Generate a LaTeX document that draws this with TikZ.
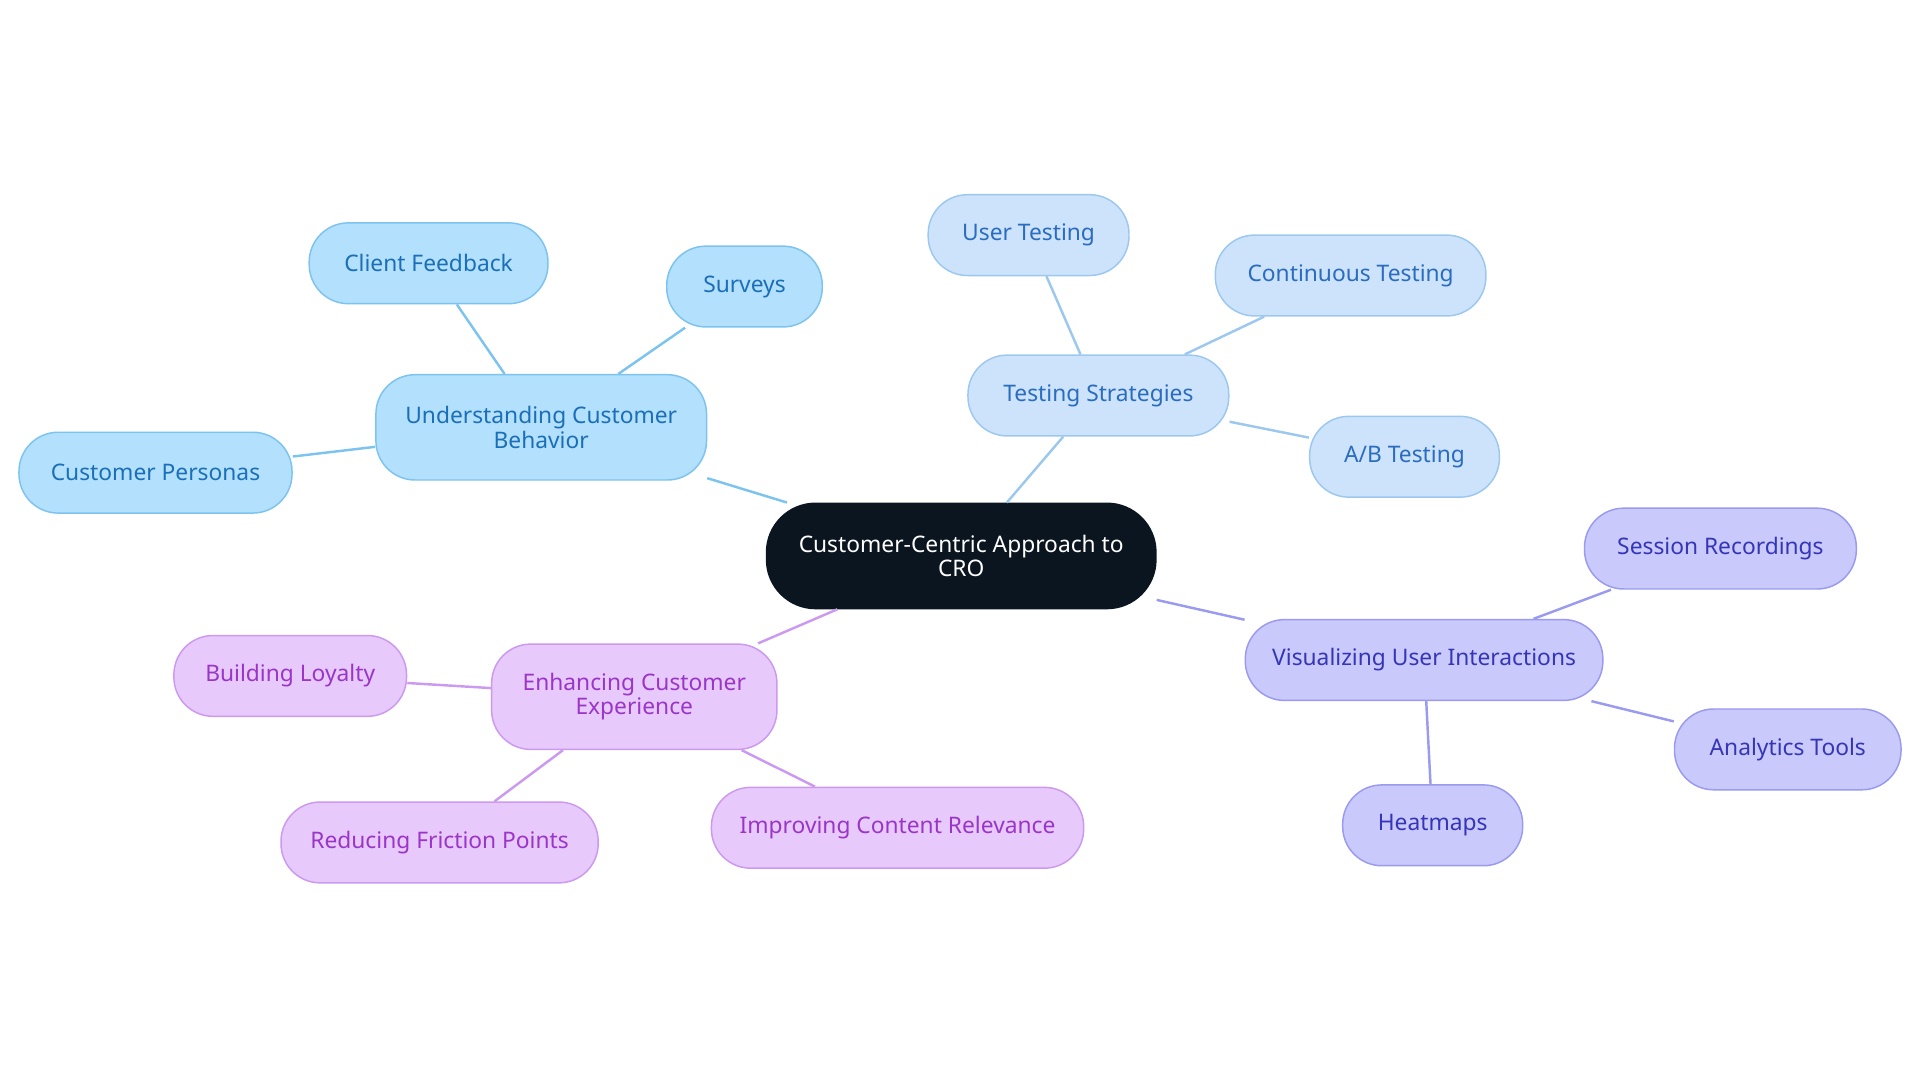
\documentclass[tikz,border=0pt]{standalone}
\usepackage{fontspec}
\setmainfont{Noto Sans}
\begin{document}
\begin{tikzpicture}[x=0.5pt,y=-0.5pt,
 base/.style={rounded corners=16pt,minimum height=33pt,align=center,font=\fontsize{9.3}{10}\selectfont,line width=0.6pt,inner sep=2pt},
 blue/.style={base,fill=cB,draw=eB,text=tB},
 lblue/.style={base,fill=cL,draw=eL,text=tL},
 purp/.style={base,fill=cP,draw=eP,text=tP},
 viol/.style={base,fill=cV,draw=eV,text=tV},
 big/.style={minimum height=43pt}]
\definecolor{cB}{HTML}{B3E0FD}\definecolor{eB}{HTML}{7CC3F0}\definecolor{tB}{HTML}{1A6FB8}
\definecolor{cL}{HTML}{CCE3FB}\definecolor{eL}{HTML}{9CC8F0}\definecolor{tL}{HTML}{2A6CC0}
\definecolor{cV}{HTML}{C9C9FB}\definecolor{eV}{HTML}{9A9AF0}\definecolor{tV}{HTML}{3535B8}
\definecolor{cP}{HTML}{E8C9FB}\definecolor{eP}{HTML}{CC99F0}\definecolor{tP}{HTML}{9A35C8}
\useasboundingbox (0,0) rectangle (1568,884);
\node[base,big,fill={rgb,255:red,11;green,21;blue,32},draw={rgb,255:red,11;green,21;blue,32},text=white,minimum width=159pt,rounded corners=20pt] (c) at (785,454) {Customer-Centric Approach to\\CRO};
\node[blue,big,minimum width=135pt] (u) at (442,349) {Understanding Customer\\Behavior};
\node[blue,minimum width=97.5pt] (u1) at (350,215) {Client Feedback};
\node[blue,minimum width=63.5pt] (u2) at (608,234) {Surveys};
\node[blue,minimum width=111.5pt] (u3) at (127,386) {Customer Personas};
\node[lblue,minimum width=106.5pt] (t) at (897,323) {Testing Strategies};
\node[lblue,minimum width=82pt] (t1) at (840,192) {User Testing};
\node[lblue,minimum width=110.5pt] (t2) at (1103,225) {Continuous Testing};
\node[lblue,minimum width=77.5pt] (t3) at (1147,373) {A/B Testing};
\node[viol,minimum width=146pt] (v) at (1163,539) {Visualizing User Interactions};
\node[viol,minimum width=111pt] (v1) at (1405,448) {Session Recordings};
\node[viol,minimum width=92.5pt] (v2) at (1460,612) {Analytics Tools};
\node[viol,minimum width=73.5pt] (v3) at (1170,674) {Heatmaps};
\node[purp,big,minimum width=116.5pt] (e) at (518,569) {Enhancing Customer\\Experience};
\node[purp,minimum width=95pt] (e1) at (237,552) {Building Loyalty};
\node[purp,minimum width=129.5pt] (e2) at (359,688) {Reducing Friction Points};
\node[purp,minimum width=152pt] (e3) at (733,676) {Improving Content Relevance};
\begin{scope}[on background layer/.style={},line width=1pt]
\draw[eB] (c) -- (u); \draw[eB] (u) -- (u1); \draw[eB] (u) -- (u2); \draw[eB] (u) -- (u3);
\draw[eL] (c) -- (t); \draw[eL] (t) -- (t1); \draw[eL] (t) -- (t2); \draw[eL] (t) -- (t3);
\draw[eV] (c) -- (v); \draw[eV] (v) -- (v1); \draw[eV] (v) -- (v2); \draw[eV] (v) -- (v3);
\draw[eP] (c) -- (e); \draw[eP] (e) -- (e1); \draw[eP] (e) -- (e2); \draw[eP] (e) -- (e3);
\end{scope}
\end{tikzpicture}
\end{document}
